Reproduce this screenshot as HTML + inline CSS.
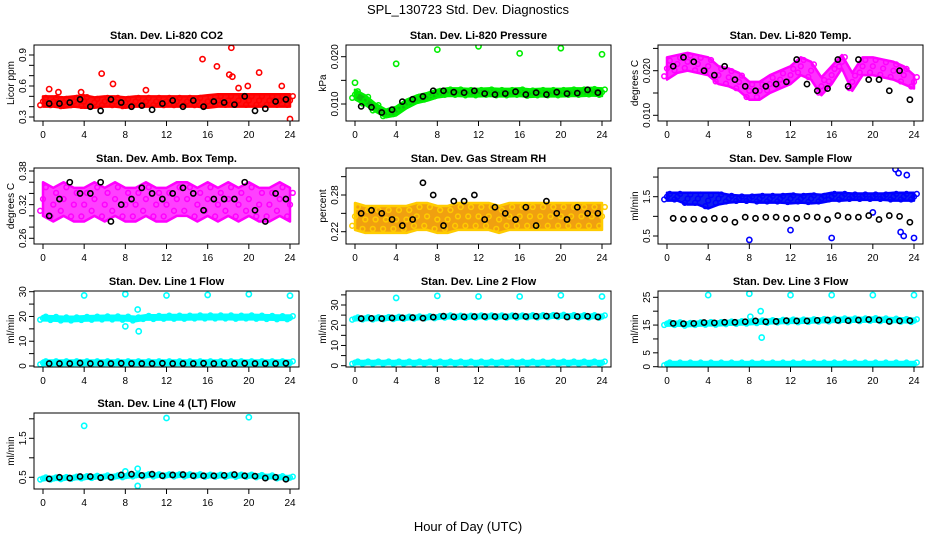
<!DOCTYPE html>
<html><head><meta charset="utf-8"><style>
body{margin:0;background:#fff;}
svg{display:block;font-family:"Liberation Sans",Arial,sans-serif;}
</style></head><body>
<svg id="c" width="936" height="540" viewBox="0 0 936 540">
<text x="468" y="14" text-anchor="middle" font-size="13">SPL_130723  Std. Dev. Diagnostics</text>
<text x="468" y="531" text-anchor="middle" font-size="13">Hour of Day (UTC)</text>
</svg>
<script>
// ---- data (hourly 0..24) ----
const hours=[0,1,2,3,4,5,6,7,8,9,10,11,12,13,14,15,16,17,18,19,20,21,22,23,24];
const xTicks=[0,4,8,12,16,20,24];
const co2Center=[0.45,0.45,0.44,0.45,0.45,0.44,0.45,0.45,0.44,0.45,0.45,0.45,0.45,0.45,0.45,0.45,0.45,0.46,0.46,0.46,0.46,0.46,0.46,0.46,0.46];
const co2Spread=[0.05,0.05,0.05,0.05,0.06,0.05,0.05,0.05,0.05,0.05,0.05,0.05,0.05,0.05,0.05,0.05,0.06,0.06,0.06,0.06,0.06,0.06,0.06,0.06,0.06];
const co2Black=[0.45,0.43,0.43,0.44,0.47,0.40,0.36,0.47,0.44,0.40,0.41,0.37,0.43,0.46,0.40,0.46,0.40,0.45,0.44,0.42,0.50,0.36,0.38,0.45,0.47];
const co2OutX=[0.6,1.5,3.7,5.7,6.8,10,15.5,16.9,18.1,18.3,18.4,19,19.9,21,23.2,24];
const co2OutY=[0.57,0.54,0.54,0.72,0.62,0.56,0.86,0.79,0.71,0.97,0.69,0.58,0.60,0.73,0.60,0.28];
const presCenter=[0.0120,0.0108,0.0092,0.0080,0.0085,0.0100,0.0110,0.0115,0.0122,0.0125,0.0125,0.0124,0.0124,0.0125,0.0124,0.0124,0.0125,0.0123,0.0124,0.0124,0.0124,0.0125,0.0125,0.0126,0.0125];
const presSpread=[0.0010,0.0010,0.0008,0.0008,0.0009,0.0009,0.0008,0.0008,0.0008,0.0008,0.0008,0.0008,0.0008,0.0008,0.0008,0.0008,0.0008,0.0008,0.0008,0.0008,0.0008,0.0008,0.0008,0.0008,0.0008];
const presBlack=[0.0120,0.0095,0.0093,0.0082,0.0088,0.0105,0.0110,0.0116,0.0128,0.0128,0.0125,0.0124,0.0128,0.0122,0.0120,0.0122,0.0126,0.0120,0.0124,0.0120,0.0125,0.0122,0.0123,0.0130,0.0124];
const presOutX=[0,4,8,12,16,20,24];
const presOutY=[0.0145,0.0185,0.0215,0.0222,0.0207,0.0218,0.0205];
const tempCenter=[0.0205,0.0215,0.022,0.0215,0.021,0.019,0.0185,0.0175,0.0155,0.0155,0.017,0.018,0.019,0.021,0.020,0.0165,0.019,0.022,0.0175,0.021,0.021,0.0205,0.020,0.019,0.0175];
const tempSpread=[0.0025,0.002,0.002,0.002,0.002,0.002,0.002,0.002,0.002,0.002,0.002,0.002,0.002,0.002,0.002,0.002,0.002,0.0015,0.002,0.002,0.002,0.002,0.002,0.002,0.0015];
const tempBlack=[0.023,0.021,0.023,0.022,0.020,0.019,0.021,0.018,0.0165,0.0155,0.0165,0.017,0.0175,0.0225,0.017,0.0155,0.016,0.0225,0.0165,0.0225,0.018,0.018,0.0155,0.020,0.0135];
const ambCenter=[0.33,0.32,0.33,0.32,0.32,0.33,0.32,0.33,0.32,0.32,0.33,0.32,0.32,0.33,0.33,0.32,0.33,0.32,0.33,0.32,0.33,0.32,0.32,0.33,0.32];
const ambSpread=[0.03,0.03,0.03,0.03,0.03,0.03,0.03,0.03,0.03,0.03,0.03,0.03,0.03,0.03,0.03,0.03,0.03,0.03,0.03,0.03,0.03,0.03,0.03,0.03,0.03];
const ambBlack=[0.34,0.30,0.33,0.36,0.34,0.34,0.36,0.29,0.32,0.33,0.35,0.34,0.33,0.34,0.35,0.34,0.31,0.33,0.33,0.33,0.36,0.31,0.29,0.34,0.33];
const rhCenter=[0.245,0.24,0.24,0.24,0.24,0.24,0.245,0.245,0.24,0.24,0.245,0.245,0.245,0.245,0.24,0.245,0.245,0.245,0.245,0.245,0.245,0.245,0.245,0.245,0.245];
const rhSpread=[0.022,0.022,0.022,0.022,0.022,0.022,0.022,0.022,0.022,0.022,0.022,0.022,0.022,0.022,0.022,0.022,0.022,0.022,0.022,0.022,0.022,0.022,0.022,0.022,0.022];
const rhBlack=[0.24,0.25,0.255,0.25,0.24,0.23,0.24,0.30,0.28,0.23,0.27,0.27,0.28,0.24,0.26,0.25,0.24,0.26,0.23,0.27,0.25,0.24,0.26,0.25,0.25];
const flowCenter=[1.5,1.5,1.45,1.45,1.4,1.45,1.45,1.45,1.45,1.45,1.45,1.45,1.45,1.45,1.45,1.45,1.5,1.5,1.5,1.5,1.5,1.5,1.5,1.5,1.5];
const flowSpread=[0.1,0.1,0.15,0.15,0.2,0.15,0.1,0.08,0.08,0.1,0.1,0.1,0.12,0.1,0.12,0.1,0.1,0.1,0.08,0.08,0.08,0.08,0.1,0.1,0.1];
const flowBlack=[0.95,0.95,0.93,0.93,0.92,0.95,0.93,0.85,0.98,0.95,0.98,0.98,0.95,0.95,1.0,0.98,0.92,1.02,0.98,0.98,1.02,0.92,1.02,1.0,0.85];
const flowOutX=[8,12,16,20,22.2,22.5,22.7,23,23.3,24];
const flowOutY=[0.4,0.65,0.45,1.1,2.2,2.1,0.6,0.5,2.05,0.45];
const l1Center=[19.3,19.2,19.0,19.0,19.2,19.3,19.4,19.4,19.3,19.0,19.6,19.6,19.7,19.7,19.7,19.8,19.8,19.8,19.8,19.7,19.8,19.7,19.6,19.5,19.5];
const l1Low=[1.3,1.3,1.3,1.3,1.3,1.3,1.3,1.3,1.3,1.3,1.3,1.3,1.3,1.3,1.3,1.3,1.3,1.3,1.3,1.3,1.3,1.3,1.3,1.3,1.3];
const l1Black=[1.0,1.0,1.0,1.0,1.2,1.0,1.0,1.0,1.1,1.0,1.0,1.0,1.1,1.0,1.0,1.0,1.1,1.0,1.0,1.0,1.1,1.0,1.0,1.0,1.1];
const l1OutX=[4,8,8,9.2,9.3,12,16,20,24];
const l1OutY=[28.5,29,16,22.8,14,28.5,28.7,29,28.4];
const l2Center=[23.3,23.4,23.4,23.5,23.6,23.7,23.8,23.9,24.0,24.3,24.2,24.2,24.3,24.3,24.3,24.3,24.3,24.4,24.4,24.5,24.6,24.5,24.4,24.4,24.3];
const l2Low=[1.5,1.5,1.5,1.5,1.5,1.5,1.5,1.5,1.5,1.5,1.5,1.5,1.5,1.5,1.5,1.5,1.5,1.5,1.5,1.5,1.5,1.5,1.5,1.5,1.5];
const l2Black=[23.3,23.3,23.4,23.3,23.6,23.7,23.8,23.5,24.0,24.5,24.2,24.2,24.3,24.3,24.3,24.2,24.5,24.3,24.4,24.5,24.7,24.1,24.3,24.4,24.1];
const l2OutX=[4,8,12,16,20,24];
const l2OutY=[33.5,34.5,34.2,34.2,34.8,34.2];
const l3Center=[15.5,15.5,15.3,15.5,15.6,15.6,15.8,15.9,16.0,16.2,16.3,16.4,16.5,16.5,16.6,16.7,16.8,16.9,16.9,16.9,17.0,16.9,16.8,16.7,16.6];
const l3Low=[1.0,1.0,1.0,1.0,1.0,1.0,1.0,1.0,1.0,1.0,1.0,1.0,1.0,1.0,1.0,1.0,1.0,1.0,1.0,1.0,1.0,1.0,1.0,1.0,1.0];
const l3Black=[15.5,15.6,15.5,15.6,15.9,15.8,16.0,16.0,16.2,16.5,16.2,16.3,16.6,16.5,16.5,16.7,16.8,16.7,16.6,16.8,17.0,16.8,16.3,16.5,16.6];
const l3OutX=[4,8,8.1,9.1,9.2,12,16,20,24];
const l3OutY=[25.8,26.3,18,20,10.5,25.8,25.8,25.8,25.8];
const l4Center=[0.47,0.47,0.48,0.49,0.50,0.51,0.52,0.52,0.53,0.55,0.55,0.55,0.55,0.55,0.55,0.55,0.54,0.54,0.54,0.54,0.54,0.53,0.52,0.50,0.49];
const l4Black=[0.47,0.46,0.50,0.48,0.52,0.52,0.49,0.50,0.56,0.58,0.55,0.58,0.54,0.56,0.57,0.54,0.54,0.54,0.55,0.57,0.54,0.53,0.48,0.50,0.45];
const l4OutX=[4,8,9.2,9.2,12,20];
const l4OutY=[1.82,0.65,0.72,0.28,2.02,2.04];

const svg=document.getElementById('c');
const NS='http://www.w3.org/2000/svg';
function mk(tag,attrs,parent){const e=document.createElementNS(NS,tag);for(const k in attrs)e.setAttribute(k,attrs[k]);(parent||svg).appendChild(e);return e;}

const colX=[43,355,667], rowTop=[45,168,291,413];
const panels=[
 {title:'Stan. Dev. Li-820 CO2',ylab:'Licor ppm',c:0,r:0,vA:0.3,pA:117,vB:0.9,pB:55,ticks:[0.3,0.4,0.5,0.6,0.7,0.8,0.9],labels:[0.3,0.6,0.9],dec:1,col:'#ff0000',fill:'#ff1010',center:co2Center,spread:co2Spread,black:co2Black,ox:co2OutX,oy:co2OutY},
 {title:'Stan. Dev. Li-820 Pressure',ylab:'kPa',c:1,r:0,vA:0.010,pA:104,vB:0.020,pB:56.7,ticks:[0.010,0.015,0.020],labels:[0.010,0.020],dec:3,col:'#00ee00',fill:'#10c010',center:presCenter,spread:presSpread,black:presBlack,ox:presOutX,oy:presOutY},
 {title:'Stan. Dev. Li-820 Temp.',ylab:'degrees C',c:2,r:0,vA:0.010,pA:115.3,vB:0.020,pB:70.7,ticks:[0.010,0.015,0.020,0.025],labels:[0.010,0.020],dec:3,col:'#ff00ff',fill:'#ff30ff',center:tempCenter,spread:tempSpread,black:tempBlack,ox:[],oy:[]},
 {title:'Stan. Dev. Amb. Box Temp.',ylab:'degrees C',c:0,r:1,vA:0.26,pA:238.3,vB:0.38,pB:171,ticks:[0.26,0.28,0.30,0.32,0.34,0.36,0.38],labels:[0.26,0.32,0.38],dec:2,col:'#ff00ff',fill:'#ff40ff',center:ambCenter,spread:ambSpread,black:ambBlack,ox:[],oy:[]},
 {title:'Stan. Dev. Gas Stream RH',ylab:'percent',c:1,r:1,vA:0.22,pA:231.7,vB:0.28,pB:195,ticks:[0.22,0.25,0.28,0.31],labels:[0.22,0.28],dec:2,col:'#ffcc00',fill:'#f0a010',center:rhCenter,spread:rhSpread,black:rhBlack,ox:[],oy:[]},
 {title:'Stan. Dev. Sample Flow',ylab:'ml/min',c:2,r:1,vA:0.5,pA:236,vB:1.5,pB:196.7,ticks:[0.5,1.0,1.5,2.0],labels:[0.5,1.5],dec:1,col:'#0000ff',fill:'#1020ee',center:flowCenter,spread:flowSpread,black:flowBlack,ox:flowOutX,oy:flowOutY},
 {title:'Stan. Dev. Line 1 Flow',ylab:'ml/min',c:0,r:2,vA:0,pA:366,vB:30,pB:291.7,ticks:[0,5,10,15,20,25,30],labels:[0,10,20,30],dec:0,col:'#00ffff',fill:'#00ffff',center:l1Center,spread:null,low:l1Low,black:l1Black,ox:l1OutX,oy:l1OutY,bw:0.9},
 {title:'Stan. Dev. Line 2 Flow',ylab:'ml/min',c:1,r:2,vA:0,pA:365.7,vB:30,pB:305,ticks:[0,5,10,15,20,25,30,35],labels:[0,10,20,30],dec:0,col:'#00ffff',fill:'#00ffff',center:l2Center,spread:null,low:l2Low,black:l2Black,ox:l2OutX,oy:l2OutY,bw:0.8},
 {title:'Stan. Dev. Line 3 Flow',ylab:'ml/min',c:2,r:2,vA:0,pA:366.7,vB:25,pB:297.3,ticks:[0,5,10,15,20,25],labels:[0,5,15,25],dec:0,col:'#00ffff',fill:'#00ffff',center:l3Center,spread:null,low:l3Low,black:l3Black,ox:l3OutX,oy:l3OutY,bw:0.7},
 {title:'Stan. Dev. Line 4 (LT) Flow',ylab:'ml/min',c:0,r:3,vA:0.5,pA:477.3,vB:1.5,pB:438.3,ticks:[0.5,1.0,1.5,2.0],labels:[0.5,1.5],dec:1,col:'#00ffff',fill:'#00ffff',center:l4Center,spread:null,black:l4Black,ox:l4OutX,oy:l4OutY,bw:0.04}
];

panels.forEach((p,i)=>{
  const x0=colX[p.c], top=rowTop[p.r], bot=top+76, fl=x0-9, fr=x0+256;
  const xs=h=>x0+h*(247/24);
  const ys=v=>p.pA+(v-p.vA)*(p.pB-p.pA)/(p.vB-p.vA);
  const g=mk('g',{});
  
  
  const cid='clip'+i;
  const cp=mk('clipPath',{id:cid},g);mk('rect',{x:fl,y:top,width:fr-fl,height:76},cp);
  const t=mk('text',{x:(fl+fr)/2,y:top-6,'text-anchor':'middle','font-size':'11','font-weight':'bold'},g);t.textContent=p.title;
  
  
  const yl=mk('text',{transform:`translate(${fl-20},${(top+bot)/2}) rotate(-90)`,'text-anchor':'middle','font-size':'10'},g);yl.textContent=p.ylab;
  
  
  const plot=mk('g',{'clip-path':`url(#${cid})`},g);
  
  
  const bands=[];
  const half=p.spread?p.spread:hours.map(()=>p.bw);
  bands.push({c:p.center,s:half});
  if(p.low) bands.push({c:p.low,s:hours.map(()=>p.bw)});
  bands.forEach(b=>{
    let up=hours.map((h,k)=>xs(h)+','+ys(b.c[k]+b.s[k])).join(' ');
    let dn=hours.slice().reverse().map(h=>{const k=hours.indexOf(h);return xs(h)+','+ys(b.c[k]-b.s[k]);}).join(' ');
    const poly=mk('polygon',{points:up+' '+dn,fill:p.fill,stroke:p.col,'stroke-width':2.5,'stroke-linejoin':'round'},plot);
    
    
    hours.forEach((h,k)=>{[-0.7,0,0.7].forEach(f=>{
      const cc=mk('circle',{cx:xs(h)+f*4,cy:ys(b.c[k]+f*b.s[k]),r:2.4,fill:'none',stroke:p.col,'stroke-width':1.5},plot);
      
      
    });});
  });
  p.ox.forEach((h,k)=>{
    const cc=mk('circle',{cx:xs(h),cy:ys(p.oy[k]),r:2.6,fill:'none',stroke:p.col,'stroke-width':1.6},plot);
    
    
  });
  hours.forEach((h,k)=>{
    if(h===0)return;
    const cc=mk('circle',{cx:xs(h-0.4),cy:ys(p.black[k]),r:2.6,fill:'none',stroke:'#000','stroke-width':1.6},plot);
    
    
  });
  const fr2=mk('rect',{x:fl,y:top,width:fr-fl,height:76,fill:'none',stroke:'#000','stroke-width':1},g);
  
  
  xTicks.forEach(h=>{
    mk('line',{x1:xs(h),x2:xs(h),y1:bot,y2:bot+5,stroke:'#000'},g);
    const tx=mk('text',{x:xs(h),y:bot+17,'text-anchor':'middle','font-size':'10'},g);tx.textContent=h;
    
    
  });
  p.ticks.forEach(v=>{const y=ys(v);if(y<top-1||y>bot+1)return;mk('line',{x1:fl-5,x2:fl,y1:y,y2:y,stroke:'#000'},g);});
  p.labels.forEach(v=>{
    const y=ys(v);
    const tx=mk('text',{transform:`translate(${fl-8},${y}) rotate(-90)`,'text-anchor':'middle','font-size':'10'},g);
    tx.textContent=v.toFixed(p.dec);
    
    
  });
});
</script>
</body></html>
